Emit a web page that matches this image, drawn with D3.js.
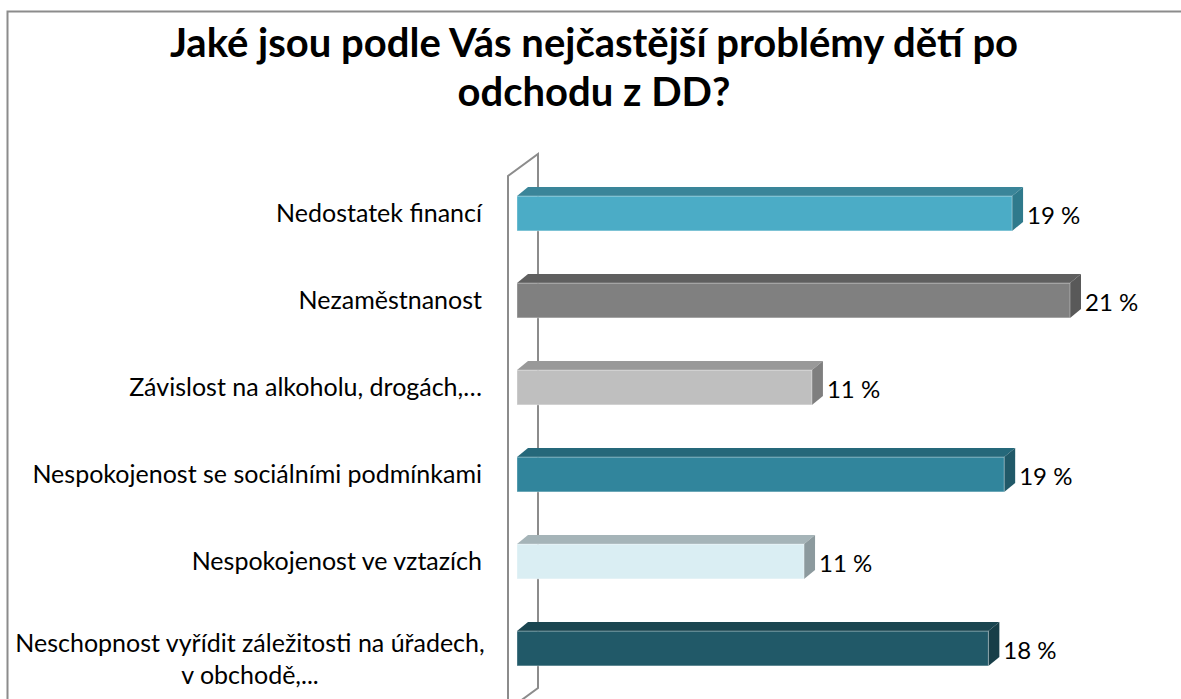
<!DOCTYPE html>
<html>
<head>
<meta charset="utf-8">
<script src="https://cdn.jsdelivr.net/npm/d3@7"></script>
<style>
    body { margin: 0; background: #fff; }
    text { font-family: Lato, "Open Sans", sans-serif; fill: #000; }
</style>
</head>
<body>
<div id="graph"></div>
<script>

// chart data
const categories = [
    'Nedostatek financí',
    'Nezaměstnanost',
    'Závislost na alkoholu, drogách,…',
    'Nespokojenost se sociálními podmínkami',
    'Nespokojenost ve vztazích',
    'Neschopnost vyřídit záležitosti na úřadech,|v obchodě,...'
];
const values = [18.8, 21.0, 11.2, 18.5, 10.9, 17.9];
const valueLabels = ['19 %', '21 %', '11 %', '19 %', '11 %', '18 %'];
const titleLines = ['Jaké jsou podle Vás nejčastější problémy dětí po', 'odchodu z DD?'];

// colours per bar: front, top, side
const barColors = [
    ['#4bacc6', '#3a8599', '#2f7a8c'],
    ['#808080', '#5f5f5f', '#595959'],
    ['#bfbfbf', '#999999', '#7f7f7f'],
    ['#31859c', '#25687a', '#215968'],
    ['#daeef3', '#a5b4b8', '#8c9a9e'],
    ['#215968', '#1a4550', '#173e48']
];

const width = 1181;
const height = 699;
const depth = {dx: 11, dy: -9};

const svg = d3.select('#graph')
    .append('svg')
    .attr('width', width)
    .attr('height', height);

// chart frame (runs past the right and bottom edges)
svg.append('rect')
    .attr('x', 7.5)
    .attr('y', 11.5)
    .attr('width', 1300)
    .attr('height', 900)
    .attr('fill', 'none')
    .attr('stroke', '#8c8c8c')
    .attr('stroke-width', 2);

// title
svg.append('text')
    .attr('text-anchor', 'middle')
    .style('font-size', '40px')
    .style('font-weight', 'bold')
    .selectAll('tspan')
    .data(titleLines)
    .enter()
    .append('tspan')
    .attr('x', 594)
    .attr('y', (d, i) => 57 + i * 49)
    .text(d => d);

const x = d3.scaleLinear()
    .domain([0, 21])
    .range([517, 1070]);

const y = d3.scaleBand()
    .domain(categories)
    .range([170, 692])
    .paddingInner(0.6)
    .paddingOuter(0.3);

// side wall of the 3d plot
svg.append('path')
    .attr('d', 'M508,720 L508,176 L538,154 L538,688 L508,710')
    .attr('fill', 'none')
    .attr('stroke', '#8c8c8c')
    .attr('stroke-width', 2);

// bars
const bars = svg.append('g')
    .selectAll('g')
    .data(categories)
    .enter()
    .append('g');

const bh = y.bandwidth();

// top face
bars.append('path')
    .attr('d', (d, i) => {
        const x0 = x(0), x1 = x(values[i]), y0 = y(d);
        return `M${x0},${y0} L${x0 + depth.dx},${y0 + depth.dy} L${x1 + depth.dx},${y0 + depth.dy} L${x1},${y0} Z`;
    })
    .attr('fill', (d, i) => barColors[i][1]);

// side face
bars.append('path')
    .attr('d', (d, i) => {
        const x1 = x(values[i]), y0 = y(d);
        return `M${x1},${y0} L${x1 + depth.dx},${y0 + depth.dy} L${x1 + depth.dx},${y0 + bh + depth.dy} L${x1},${y0 + bh} Z`;
    })
    .attr('fill', (d, i) => barColors[i][2]);

// front face
bars.append('rect')
    .attr('x', x(0))
    .attr('y', d => y(d))
    .attr('width', (d, i) => x(values[i]) - x(0))
    .attr('height', bh)
    .attr('fill', (d, i) => barColors[i][0])
    .attr('stroke', 'rgba(255,255,255,0.35)')
    .attr('stroke-width', 1);

// value labels
bars.append('text')
    .attr('x', (d, i) => x(values[i]) + depth.dx + 4)
    .attr('y', d => y(d) + bh / 2 + 10)
    .style('font-size', '24px')
    .text((d, i) => valueLabels[i]);

// category labels
svg.append('g')
    .selectAll('text')
    .data(categories)
    .enter()
    .append('text')
    .style('font-size', '25px')
    .each(function (d) {
        const lines = d.split('|');
        const t = d3.select(this);
        const cy = y(d) + bh / 2;
        if (lines.length === 1) {
            t.attr('text-anchor', 'end')
                .attr('x', 482)
                .attr('y', cy + 8)
                .text(d);
        } else {
            t.attr('text-anchor', 'middle');
            lines.forEach((line, j) => {
                t.append('tspan')
                    .attr('x', 250)
                    .attr('y', cy + 8 + j * 32 - (lines.length - 1) * 5)
                    .text(line);
            });
        }
    });

</script>
</body>
</html>
